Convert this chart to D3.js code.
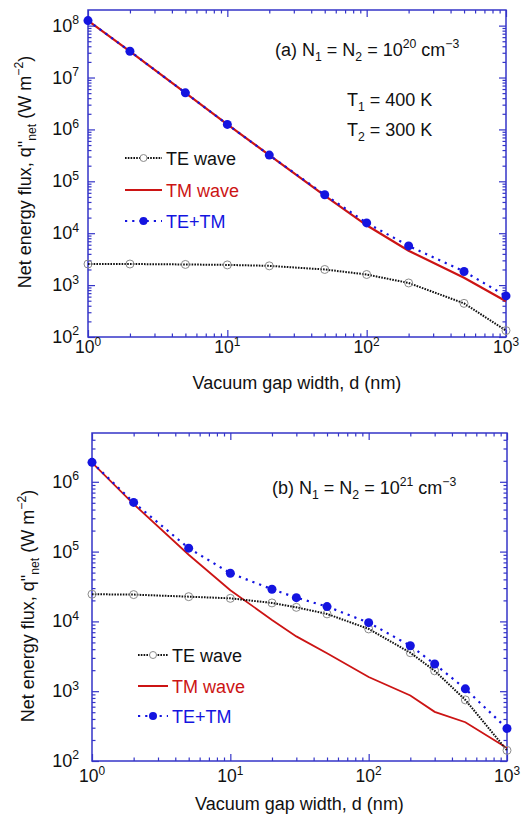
<!DOCTYPE html>
<html lang="en">
<head>
<meta charset="UTF-8">
<title>Net energy flux vs gap</title>
<style>
  * { margin: 0; padding: 0; }
  body { background: #fff; }
  svg { display: block; font-family: "Liberation Sans", Arial, sans-serif; }
</style>
<script src="https://cdn.jsdelivr.net/npm/d3@7"></script>
</head>
<body>
<div id="chart"></div>
<script>
// panel (a) : N1 = N2 = 1e20
var dA   = [1, 2, 5, 10, 20, 50, 100, 200, 500, 1000];
var teA  = [2.55e3, 2.55e3, 2.5e3, 2.45e3, 2.35e3, 2.0e3, 1.6e3, 1.1e3, 445, 133];
var tmA  = [1.25e8, 3.2e7, 5.07e6, 1.25e6, 3.2e5, 5.3e4, 1.42e4, 4.6e3, 1.38e3, 490];
var totA = [1.25e8, 3.2e7, 5.07e6, 1.25e6, 3.2e5, 5.5e4, 1.58e4, 5.7e3, 1.83e3, 620];

// panel (b) : N1 = N2 = 1e21
var dB   = [1, 2, 5, 10, 20, 30, 50, 100, 200, 300, 500, 1000];
var teB  = [2.45e4, 2.42e4, 2.26e4, 2.14e4, 1.84e4, 1.59e4, 1.28e4, 7.8e3, 3.56e3, 1.96e3, 750, 142];
var tmB  = [1.88e6, 4.8e5, 9.0e4, 2.8e4, 1.05e4, 6.1e3, 3.5e3, 1.6e3, 870, 506, 359, 154];
var totB = [1.9e6, 5.06e5, 1.12e5, 4.9e4, 2.89e4, 2.19e4, 1.63e4, 9.6e3, 4.48e3, 2.45e3, 1.08e3, 292];

var xTicks = [1, 10, 100, 1000];
var yTicksA = [1e2, 1e3, 1e4, 1e5, 1e6, 1e7, 1e8];
var yTicksB = [1e2, 1e3, 1e4, 1e5, 1e6];
var legendNames = ['TE wave', 'TM wave', 'TE+TM'];

var W = 522, H = 818;
var axisColor = '#3434c8',
    red = '#cc1414',
    blue = '#1414e0';

var svg = d3.select('#chart').append('svg')
    .attr('width', W).attr('height', H);

// text with sup / sub pieces: parts = [[text, 'sup'|'sub'|null], ...]
function rich(sel, parts, size) {
    var shift = 0;
    parts.forEach(function (p) {
        var t = sel.append('tspan').text(p[0]);
        var target = 0, fs = size;
        if (p[1] === 'sup') { target = -size * 0.42; fs = size * 0.68; }
        if (p[1] === 'sub') { target = size * 0.3; fs = size * 0.68; }
        t.attr('dy', target - shift).style('font-size', fs + 'px');
        shift = target;
    });
    return sel;
}

function minorTicks(lo, hi) {
    var out = [];
    for (var e = Math.floor(Math.log10(lo)); e <= Math.ceil(Math.log10(hi)); e++) {
        for (var m = 2; m <= 9; m++) {
            var v = m * Math.pow(10, e);
            if (v > lo && v < hi) out.push(v);
        }
    }
    return out;
}

function exp10(v) { return Math.round(Math.log10(v)); }

function panel(cfg) {
    var x = d3.scaleLog().domain([1, 1000]).range([cfg.left, cfg.right]);
    var y = d3.scaleLog().domain(cfg.ydom).range([cfg.bottom, cfg.top]);
    var g = svg.append('g');

    var xMinor = minorTicks(1, 1000), yMinor = minorTicks(cfg.ydom[0], cfg.ydom[1]);

    function styleAxis(a) {
        a.select('.domain').remove();
        a.selectAll('line').attr('stroke', axisColor).attr('stroke-width', 1.2);
    }
    // major + minor ticks, inward on all four sides
    [[d3.axisBottom, 'translate(0,' + cfg.bottom + ')', x, xTicks, xMinor],
     [d3.axisTop, 'translate(0,' + cfg.top + ')', x, xTicks, xMinor],
     [d3.axisLeft, 'translate(' + cfg.left + ',0)', y, cfg.yticks, yMinor],
     [d3.axisRight, 'translate(' + cfg.right + ',0)', y, cfg.yticks, yMinor]
    ].forEach(function (a) {
        g.append('g').attr('transform', a[1])
            .call(a[0](a[2]).tickValues(a[3]).tickSize(-7).tickFormat(''))
            .call(styleAxis);
        g.append('g').attr('transform', a[1])
            .call(a[0](a[2]).tickValues(a[4]).tickSize(-3.5).tickFormat(''))
            .call(styleAxis);
    });

    g.append('rect')
        .attr('x', cfg.left).attr('y', cfg.top)
        .attr('width', cfg.right - cfg.left).attr('height', cfg.bottom - cfg.top)
        .attr('fill', 'none').attr('stroke', axisColor).attr('stroke-width', 1.5);

    // tick labels
    xTicks.forEach(function (v) {
        rich(g.append('text').attr('x', x(v)).attr('y', cfg.bottom + cfg.xlabOff)
            .attr('text-anchor', 'middle').attr('fill', '#111'),
            [['10', null], [String(exp10(v)), 'sup']], 17.5);
    });
    cfg.yticks.forEach(function (v) {
        rich(g.append('text').attr('x', cfg.left - cfg.ylabGap).attr('y', y(v) + 6)
            .attr('text-anchor', 'end').attr('fill', '#111'),
            [['10', null], [String(exp10(v)), 'sup']], 18);
    });

    // axis titles
    g.append('text')
        .attr('x', (cfg.left + cfg.right) / 2).attr('y', cfg.bottom + cfg.xtitleOff)
        .attr('text-anchor', 'middle').style('font-size', '18px').attr('fill', '#111')
        .text('Vacuum gap width, d (nm)');
    rich(g.append('text')
        .attr('transform', 'translate(' + cfg.ytitleX + ',' + cfg.ytitleY + ') rotate(-90)')
        .attr('text-anchor', 'middle').attr('fill', '#111'),
        [['Net energy flux, q"', null], ['net', 'sub'], ['  (W m', null], ['\u22122', 'sup'], [')', null]], 18);

    // series
    var te = cfg.d.map(function (d, i) { return [d, cfg.te[i]]; }),
        tm = cfg.d.map(function (d, i) { return [d, cfg.tm[i]]; }),
        tot = cfg.d.map(function (d, i) { return [d, cfg.tot[i]]; });
    var line = d3.line().x(function (p) { return x(p[0]); }).y(function (p) { return y(p[1]); });

    g.append('path').datum(tm).attr('d', line)
        .attr('fill', 'none').attr('stroke', red).attr('stroke-width', cfg.tmWidth);
    g.append('path').datum(tot).attr('d', line)
        .attr('fill', 'none').attr('stroke', blue).attr('stroke-width', 2.2)
        .attr('stroke-dasharray', '2.2,5');
    g.append('path').datum(te).attr('d', line)
        .attr('fill', 'none').attr('stroke', '#111').attr('stroke-width', 2)
        .attr('stroke-dasharray', '1.6,1.2');

    g.selectAll('circle.te').data(te).enter().append('circle').attr('class', 'te')
        .attr('cx', function (p) { return x(p[0]); }).attr('cy', function (p) { return y(p[1]); })
        .attr('r', 4).attr('fill', 'none').attr('stroke', '#8a8a8a').attr('stroke-width', 1);
    g.selectAll('circle.tot').data(tot).enter().append('circle').attr('class', 'tot')
        .attr('cx', function (p) { return x(p[0]); }).attr('cy', function (p) { return y(p[1]); })
        .attr('r', 4.5).attr('fill', blue);

    // legend
    var L = cfg.legend;
    legendNames.forEach(function (name, i) {
        var ly = L.y[i];
        var col = i === 0 ? '#111' : (i === 1 ? red : blue);
        var ln = g.append('line').attr('x1', L.x0).attr('x2', L.x1).attr('y1', ly).attr('y2', ly)
            .attr('stroke', col).attr('stroke-width', 2);
        if (i === 0) ln.attr('stroke-dasharray', '1.6,1.2');
        if (i === 2) ln.attr('stroke-dasharray', '2.2,5');
        var mx = (L.x0 + L.x1) / 2;
        if (i === 0) g.append('circle').attr('cx', mx).attr('cy', ly).attr('r', 3.5)
            .attr('fill', '#fff').attr('stroke', '#8a8a8a');
        if (i === 2) g.append('circle').attr('cx', mx).attr('cy', ly).attr('r', 4).attr('fill', blue);
        g.append('text').attr('x', L.x1 + 4).attr('y', ly + 6.5)
            .style('font-size', '18px').attr('fill', col).text(name);
    });

    // annotations
    cfg.notes.forEach(function (n) {
        rich(g.append('text').attr('x', n.x).attr('y', n.y).attr('fill', '#111'), n.parts, 18);
    });
}

panel({
    left: 88, right: 506, top: 10, bottom: 337,
    ydom: [1e2, 2e8], yticks: yTicksA,
    d: dA, te: teA, tm: tmA, tot: totA, tmWidth: 2.2,
    xlabOff: 16, xtitleOff: 52, ylabGap: 9,
    ytitleX: 31, ytitleY: 172,
    legend: { x0: 125, x1: 162, y: [158, 190, 221] },
    notes: [
        { x: 275, y: 56, parts: [['(a) N', null], ['1', 'sub'], [' = N', null], ['2', 'sub'], [' = 10', null], ['20', 'sup'], [' cm', null], ['\u22123', 'sup']] },
        { x: 347, y: 106, parts: [['T', null], ['1', 'sub'], [' = 400 K', null]] },
        { x: 347, y: 136, parts: [['T', null], ['2', 'sub'], [' = 300 K', null]] }
    ]
});

panel({
    left: 92, right: 507, top: 433, bottom: 761,
    ydom: [1e2, 5e6], yticks: yTicksB,
    d: dB, te: teB, tm: tmB, tot: totB, tmWidth: 1.8,
    xlabOff: 21, xtitleOff: 49, ylabGap: 13,
    ytitleX: 34, ytitleY: 606,
    legend: { x0: 138, x1: 168, y: [655, 686, 716] },
    notes: [
        { x: 272, y: 494, parts: [['(b) N', null], ['1', 'sub'], [' = N', null], ['2', 'sub'], [' = 10', null], ['21', 'sup'], [' cm', null], ['\u22123', 'sup']] }
    ]
});
</script>
</body>
</html>
